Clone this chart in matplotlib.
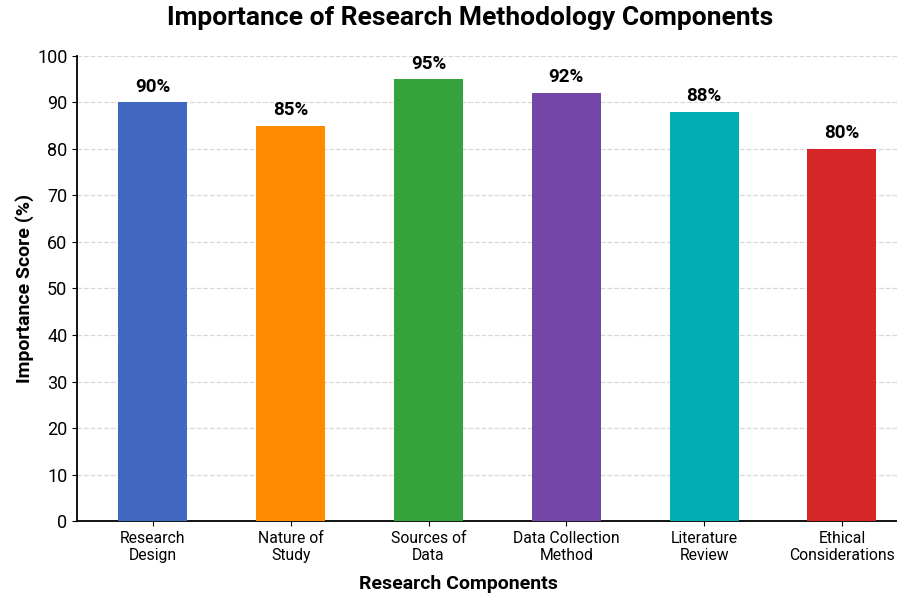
import matplotlib.pyplot as plt
import numpy as np

plt.rcParams['font.family'] = ['Roboto', 'DejaVu Sans']

components = ['Research\nDesign', 'Nature of\nStudy', 'Sources of\nData',
              'Data Collection\nMethod', 'Literature\nReview', 'Ethical\nConsiderations']
scores = [90, 85, 95, 92, 88, 80]
colors = ['#4068c0', '#ff8a00', '#35a33b', '#7446a8', '#00adb2', '#d62628']
yticks = [0, 10, 20, 30, 40, 50, 60, 70, 80, 90, 100]

fig = plt.figure(figsize=(8.97, 5.93), dpi=100)
ax = fig.add_axes([0.086, 0.121, 0.914, 0.785])

x = np.arange(len(components))
bars = ax.bar(x, scores, width=0.5, color=colors, zorder=3)

for b, v in zip(bars, scores):
    ax.text(b.get_x() + b.get_width() / 2, v + 1.4, f'{v}%',
            ha='center', va='bottom', fontsize=13.5, fontweight='bold')

ax.set_xlim(-0.55, 5.4)
ax.set_ylim(0, 100)
ax.set_yticks(yticks)
ax.set_xticks(x)
ax.set_xticklabels(components, fontsize=11.3)
ax.tick_params(axis='y', labelsize=13)
ax.yaxis.grid(True, linestyle='--', color='#d8d8d8', linewidth=0.9, zorder=0)

for s in ['top', 'right']:
    ax.spines[s].set_visible(False)
for s in ['left', 'bottom']:
    ax.spines[s].set_linewidth(1.3)

ax.set_xlabel('Research Components', fontsize=14, fontweight='bold')
ax.xaxis.set_label_coords(0.465, -0.115)
ax.set_ylabel('Importance Score (%)', fontsize=14, fontweight='bold', labelpad=2)
fig.suptitle('Importance of Research Methodology Components', fontsize=19,
             fontweight='bold', x=0.524, y=0.99)

fig.savefig('out.png', dpi=100)
